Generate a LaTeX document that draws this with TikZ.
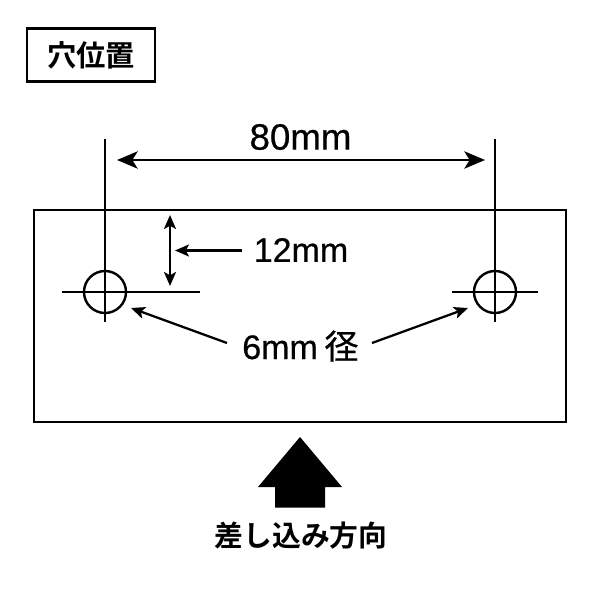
\documentclass[tikz,border=0pt]{standalone}
\usepackage{fontspec}
\setmainfont{Liberation Sans}
\newfontfamily\lab[FakeBold=0.6]{Liberation Sans}
\newfontfamily\cjk{Noto Sans CJK JP}[BoldFont={Noto Sans CJK JP Bold}]
\newfontfamily\cjkm[FakeBold=0.5]{Noto Sans CJK JP}
\usetikzlibrary{arrows.meta}
\tikzset{
  px/.style={x=0.75pt,y=-0.75pt},
  thin line/.style={line width=1.7pt},
  bigtip/.tip={Stealth[length=15.5pt,width=13pt,inset=4pt]},
  smalltip/.tip={Stealth[length=10.5pt,width=9pt,inset=2.5pt]},
  arr/.style={line width=1.7pt,bigtip-bigtip},
  varr/.style={line width=1.7pt,smalltip-smalltip},
  rarr/.style={line width=1.7pt,-smalltip},
  lbl/.style={inner sep=0pt,font=\lab\fontsize{25.5pt}{28pt}\selectfont},
  hole/.style={draw,circle,line width=1.8pt,minimum size=31.5pt,inner sep=0pt}
}
\begin{document}
\begin{tikzpicture}[px]
\useasboundingbox (0,0) rectangle (600,600);
\fill[white] (0,0) rectangle (600,600);
\node[draw,line width=2pt,minimum width=96pt,minimum height=40pt,inner sep=0pt,font=\cjk\bfseries\fontsize{22pt}{23pt}\selectfont] (title) at (91,55) {穴位置};
\node[draw,line width=2pt,minimum width=399pt,minimum height=159pt,inner sep=0pt] (plate) at (300,316) {};
\coordinate (lt) at (105,139); \coordinate (lb) at (105,322);
\coordinate (rt) at (495,139); \coordinate (rb) at (495,322);
\coordinate (lh) at (105,292); \coordinate (rh) at (495,292);
\draw[thin line] (lt) -- (lb);
\draw[thin line] (rt) -- (rb);
\node[hole] (c1) at (lh) {};
\node[hole] (c2) at (rh) {};
\coordinate (l1) at (62,292); \coordinate (l2) at (200,292);
\coordinate (r1) at (452,292); \coordinate (r2) at (538,292);
\draw[thin line] (l1) -- (l2);
\draw[thin line] (r1) -- (r2);
\coordinate (a1) at (117,160); \coordinate (a2) at (485,160);
\draw[arr] (a1) -- (a2);
\node[lbl,font=\lab\fontsize{27.5pt}{30pt}\selectfont] (t80) at (300.5,137) {80mm};
\coordinate (v1) at (170,215); \coordinate (v2) at (170,286);
\draw[varr] (v1) -- (v2);
\node[lbl] (t12) at (301,250) {12mm};
\coordinate (p12) at (242,250.5); \coordinate (p12e) at (175,250.5);
\draw[rarr] (p12) -- (p12e);
\node[lbl,anchor=base west] (t6) at (242,359) {6mm\hspace{5pt}{\cjkm\fontsize{25.5pt}{28pt}\selectfont 径}};
\coordinate (s1) at (227,343); \coordinate (e1) at (131,308);
\coordinate (s2) at (372,343); \coordinate (e2) at (468,308);
\draw[rarr] (s1) -- (e1);
\draw[rarr] (s2) -- (e2);
\fill (300,437) -- (342,487) -- (325,487) -- (325,507.5) -- (275,507.5) -- (275,487) -- (258,487) -- cycle;
\node[inner sep=0pt,font=\cjk\bfseries\fontsize{21.6pt}{23pt}\selectfont] (dir) at (301,536) {差し込み方向};
\end{tikzpicture}
\end{document}
